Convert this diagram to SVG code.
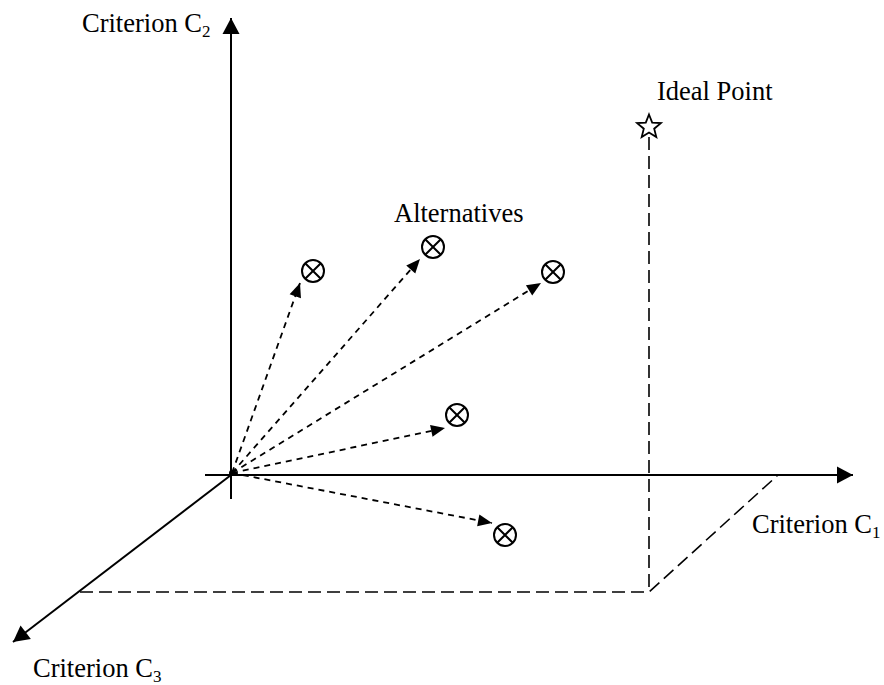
<svg xmlns="http://www.w3.org/2000/svg" width="884" height="685" viewBox="0 0 884 685">
<style>
.lbl{font-family:"Liberation Serif","Times New Roman",serif;font-size:26.5px;fill:#000}
.sub{font-size:17px}
.axis{stroke:#000;stroke-width:2;fill:none}
.dash{stroke:#000;stroke-width:1.8;fill:none;stroke-dasharray:6 5}
.proj{stroke:#000;stroke-width:1.6;fill:none;stroke-dasharray:13 6}
.alt circle{fill:#fff;stroke:#000;stroke-width:2}
.alt path{stroke:#000;stroke-width:2}
</style>
<defs>
<marker id="ah" markerUnits="userSpaceOnUse" markerWidth="18" markerHeight="18" viewBox="0 0 18 18" refX="17" refY="9" orient="auto">
<path d="M1,0.5 L17,9 L1,17.5 Z" fill="#000"/>
</marker>
<marker id="ahs" markerUnits="userSpaceOnUse" markerWidth="15" markerHeight="14" viewBox="0 0 15 14" refX="14.5" refY="7" orient="auto">
<path d="M0.5,1 L14.5,7 L0.5,13 Z" fill="#000"/>
</marker>
</defs>
<g id="connectors">
<line class="axis" x1="231" y1="499" x2="231" y2="18" marker-end="url(#ah)"/>
<line class="axis" x1="205" y1="475" x2="853" y2="475" marker-end="url(#ah)"/>
<line class="axis" x1="231" y1="475" x2="13" y2="642" marker-end="url(#ah)"/>
<polyline class="proj" points="80,592 649,592 778,475"/>
<line class="proj" x1="649" y1="137" x2="649" y2="592"/>
<line class="dash" x1="232" y1="473" x2="300" y2="283" marker-end="url(#ahs)"/>
<line class="dash" x1="232" y1="473" x2="420" y2="259" marker-end="url(#ahs)"/>
<line class="dash" x1="232" y1="473" x2="541" y2="283" marker-end="url(#ahs)"/>
<line class="dash" x1="232" y1="473" x2="445" y2="428" marker-end="url(#ahs)"/>
<line class="dash" x1="232" y1="473" x2="492" y2="523" marker-end="url(#ahs)"/>
<circle cx="232" cy="473" r="3" fill="#000"/>
</g>
<g id="alt1" class="alt"><circle cx="313" cy="271" r="11"/><path d="M305.2,263.2 L320.8,278.8 M320.8,263.2 L305.2,278.8"/></g>
<g id="alt2" class="alt"><circle cx="433" cy="247" r="11"/><path d="M425.2,239.2 L440.8,254.8 M440.8,239.2 L425.2,254.8"/></g>
<g id="alt3" class="alt"><circle cx="553" cy="272" r="11"/><path d="M545.2,264.2 L560.8,279.8 M560.8,264.2 L545.2,279.8"/></g>
<g id="alt4" class="alt"><circle cx="457" cy="415" r="11"/><path d="M449.2,407.2 L464.8,422.8 M464.8,407.2 L449.2,422.8"/></g>
<g id="alt5" class="alt"><circle cx="505" cy="535" r="11"/><path d="M497.2,527.2 L512.8,542.8 M512.8,527.2 L497.2,542.8"/></g>
<g id="ideal">
<polygon points="649,114.5 652.2,122.6 660.9,123.1 654.2,128.7 656.3,137.1 649,132.5 641.7,137.1 643.8,128.7 637.1,123.1 645.8,122.6" fill="#fff" stroke="#000" stroke-width="1.8" stroke-linejoin="miter"/>
<text class="lbl" x="657" y="100">Ideal Point</text>
</g>
<g id="labels">
<text class="lbl" x="394" y="222">Alternatives</text>
<text class="lbl" x="82" y="32">Criterion C<tspan class="sub" dy="5">2</tspan></text>
<text class="lbl" x="752" y="533">Criterion C<tspan class="sub" dy="5">1</tspan></text>
<text class="lbl" x="33" y="677">Criterion C<tspan class="sub" dy="5">3</tspan></text>
</g>
</svg>
